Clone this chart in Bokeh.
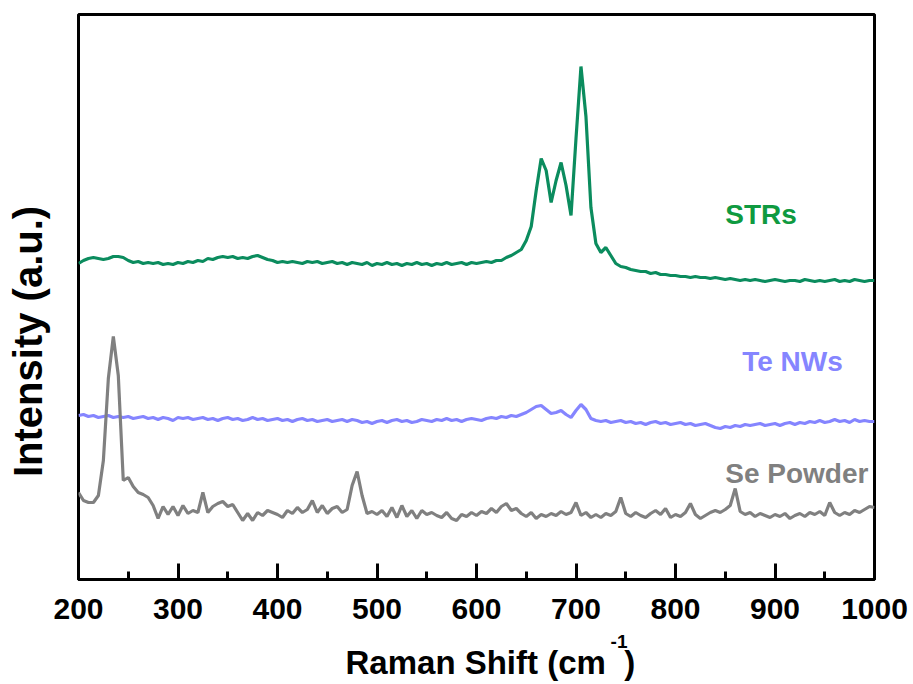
import numpy as np
from bokeh.plotting import figure
from bokeh.models import Range1d, SingleIntervalTicker, FixedTicker, Label, Title
from bokeh.embed import file_html
from bokeh.resources import INLINE

# Raman shift grid (cm^-1), 5 cm^-1 steps from 200 to 1000
shift = np.arange(200, 1001, 5)

# Intensities (a.u., vertically offset spectra)
strs = [
    315, 318, 320, 321, 320, 319, 320, 322, 322, 321,
    318, 316, 317, 315, 316, 315, 316, 314, 315, 314,
    316, 315, 317, 316, 318, 317, 320, 319, 321, 322,
    321, 322, 320, 321, 320, 322, 323, 321, 319, 318,
    316, 317, 316, 317, 316, 315, 317, 316, 317, 315,
    316, 317, 315, 316, 314, 316, 315, 314, 316, 313,
    315, 314, 316, 314, 315, 313, 315, 314, 316, 314,
    315, 313, 315, 314, 316, 314, 315, 316, 314, 316,
    315, 316, 317, 316, 318, 318, 321, 323, 326, 329,
    338, 352, 388, 420, 408, 376, 398, 416, 393, 363,
    440, 512, 462, 371, 335, 326, 331, 323, 315, 312,
    311, 309, 308, 307, 307, 305, 306, 304, 304, 303,
    303, 302, 302, 301, 302, 301, 301, 300, 301, 300,
    299, 300, 299, 298, 299, 298, 299, 298, 297, 298,
    299, 298, 297, 298, 298, 297, 299, 298, 297, 298,
    297, 298, 299, 297, 298, 297, 299, 298, 297, 298,
    298,
]

te_nws = [
    163, 164, 162, 163, 161, 162, 163, 161, 162, 161,
    162, 160, 161, 162, 160, 161, 159, 161, 160, 158,
    161, 160, 161, 159, 160, 161, 159, 160, 158, 160,
    161, 159, 160, 158, 159, 161, 159, 160, 158, 159,
    160, 158, 159, 157, 159, 160, 158, 159, 157, 158,
    159, 157, 158, 159, 157, 159, 158, 156, 157, 155,
    157, 158, 156, 158, 159, 157, 158, 156, 157, 159,
    158, 157, 159, 158, 160, 158, 159, 157, 159, 160,
    159, 158, 160, 161, 160, 162, 161, 163, 162, 164,
    166, 169, 172, 173, 169, 165, 166, 168, 164, 161,
    168, 174, 169, 160, 158, 157, 158, 156, 157, 158,
    156, 157, 155, 156, 154, 156, 157, 155, 156, 154,
    155, 156, 154, 155, 153, 154, 155, 153, 151, 150,
    152, 151, 153, 152, 154, 153, 154, 155, 153, 154,
    155, 153, 155, 156, 154, 156, 155, 157, 156, 158,
    156, 157, 159, 157, 158, 156, 159, 157, 158, 157,
    157,
]

se_powder = [
    86, 78, 76, 76, 83, 118, 200, 242, 203, 98,
    101, 92, 86, 84, 81, 73, 60, 72, 64, 72,
    63, 73, 65, 68, 66, 86, 66, 72, 75, 77,
    72, 74, 66, 58, 65, 58, 66, 63, 68, 66,
    64, 61, 68, 65, 71, 66, 69, 78, 66, 73,
    65, 70, 72, 66, 69, 93, 107, 83, 65, 67,
    64, 68, 62, 71, 61, 73, 62, 68, 60, 68,
    64, 66, 63, 61, 66, 60, 58, 64, 62, 66,
    63, 67, 65, 70, 66, 72, 75, 68, 70, 65,
    62, 66, 60, 64, 62, 65, 63, 67, 64, 66,
    76, 63, 66, 61, 64, 61, 65, 63, 67, 81,
    65, 62, 66, 63, 61, 65, 68, 64, 70, 61,
    64, 62, 66, 75, 64, 60, 63, 66, 68, 66,
    69, 73, 90, 67, 64, 66, 62, 65, 63, 61,
    64, 62, 65, 60, 63, 65, 62, 66, 64, 67,
    63, 76, 66, 63, 66, 64, 68, 66, 69, 72,
    71,
]

series_names = ["STRs", "Te NWs", "Se Powder"]
line_colors = ["#0b8c5e", "#8585ff", "#808080"]
label_colors = ["#0f9a40", "#8585ff", "#808080"]

FONT = "Liberation Sans"
NBSP = "\u00a0"

p = figure(
    width=913, height=684,
    x_range=Range1d(200, 1000), y_range=Range1d(-1, 564),
    output_backend="svg", toolbar_location=None,
    min_border_left=78, min_border_right=39,
    min_border_top=14, min_border_bottom=105,
)
p.background_fill_color = "white"
p.border_fill_color = "white"
p.outline_line_color = "black"
p.outline_line_width = 3
p.xgrid.visible = False
p.ygrid.visible = False

ax = p.xaxis[0]
ax.ticker = SingleIntervalTicker(interval=100, num_minor_ticks=2)
ax.axis_line_width = 3
ax.axis_line_color = "black"
ax.major_tick_in = 16
ax.major_tick_out = 0
ax.minor_tick_in = 8
ax.minor_tick_out = 0
ax.major_tick_line_width = 3
ax.minor_tick_line_width = 3
ax.major_label_text_font = FONT
ax.major_label_text_font_style = "bold"
ax.major_label_text_font_size = "30px"
ax.major_label_text_color = "black"
ax.major_label_standoff = 19
# the exponent of the unit sits on the axis-label row, right of centre
ax.axis_label = NBSP * 54 + "-1"
ax.axis_label_text_font = FONT
ax.axis_label_text_font_style = "bold"
ax.axis_label_text_font_size = "19px"
ax.axis_label_text_color = "black"
ax.axis_label_standoff = 9

# left axis: no ticks, only the title (trailing spaces push it down the frame)
yax = p.yaxis[0]
yax.ticker = FixedTicker(ticks=[])
yax.axis_line_color = None
yax.major_tick_line_color = None
yax.minor_tick_line_color = None
yax.axis_label = "Intensity (a.u.)" + NBSP * 8
yax.axis_label_text_font = FONT
yax.axis_label_text_font_style = "bold"
yax.axis_label_text_font_size = "40px"
yax.axis_label_text_color = "black"
yax.axis_label_standoff = 29

for ys, col in zip([strs, te_nws, se_powder], line_colors):
    p.line(shift, ys, line_color=col, line_width=3.2)

# series names next to their spectra
name_pos = [(850, 364), (867, 217), (850, 105)]
for name, (lx, ly), col in zip(series_names, name_pos, label_colors):
    p.add_layout(Label(x=lx, y=ly, text=name, text_font=FONT,
                       text_font_style="bold", text_font_size="28px",
                       text_color=col, text_baseline="alphabetic",
                       text_align="left"))

# x-axis title
p.add_layout(Title(text="Raman Shift (cm" + NBSP * 2 + ")", align="left", offset=267,
                   text_font=FONT, text_font_style="bold",
                   text_font_size="33px", text_color="black",
                   standoff=-25), "below")

open("out.html", "w").write(file_html(p, INLINE))
